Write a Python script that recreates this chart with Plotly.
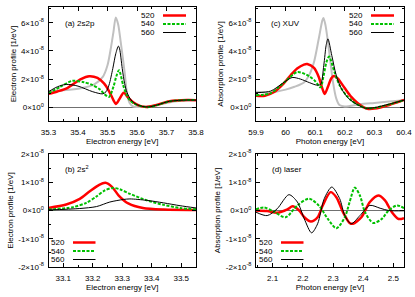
import plotly.graph_objects as go

W, H = 415, 297
S = 1e-8  # values below are in units of 1e-8 1/eV

# ---- panel (a) 2s2p : electron energy [eV]
A_RED_X = [35.30, 35.33, 35.365, 35.41, 35.438, 35.466, 35.488, 35.505, 35.52, 35.528, 35.54, 35.555, 35.57, 35.587, 35.61, 35.632, 35.666, 35.71, 35.77, 35.80]
A_RED_Y = [0.95, 1.12, 1.38, 2.00, 2.20, 2.08, 1.69, 1.15, 0.51, 0.23, 0.56, 1.03, 0.68, 0.35, 0.09, 0.02, 0.16, 0.42, 0.51, 0.50]
A_GRN_X = [35.30, 35.34, 35.38, 35.42, 35.45, 35.475, 35.49, 35.505, 35.52, 35.53, 35.539, 35.553, 35.564, 35.575, 35.592, 35.62, 35.635, 35.67, 35.71, 35.77, 35.80]
A_GRN_Y = [1.0, 1.45, 1.87, 1.78, 1.57, 1.25, 0.92, 0.73, 1.45, 2.2, 2.63, 1.57, 0.92, 0.51, 0.23, 0.05, 0.0, 0.16, 0.42, 0.51, 0.50]
A_BLK_X = [35.30, 35.33, 35.36, 35.40, 35.45, 35.484, 35.495, 35.505, 35.518, 35.528, 35.537, 35.541, 35.55, 35.558, 35.566, 35.58, 35.598, 35.62, 35.64, 35.67, 35.71, 35.77, 35.80]
A_BLK_Y = [1.1, 1.45, 1.62, 1.5, 1.1, 0.95, 1.1, 1.57, 2.75, 3.8, 4.34, 4.15, 2.75, 1.69, 1.06, 0.51, 0.2, 0.05, 0.02, 0.17, 0.42, 0.51, 0.50]
A_GRY_X = [35.30, 35.35, 35.41, 35.455, 35.484, 35.50, 35.511, 35.52, 35.528, 35.536, 35.545, 35.558, 35.566, 35.575, 35.587, 35.60, 35.65, 35.70, 35.75, 35.80]
A_GRY_Y = [1.15, 1.2, 1.34, 1.62, 2.15, 2.98, 4.15, 5.32, 6.38, 5.9, 4.6, 2.5, 0.99, 0.3, 0.05, 0.02, 0.08, 0.3, 0.45, 0.52]

# ---- panel (c) XUV : photon energy [eV]
C_RED_X = [59.90, 59.93, 59.96, 59.994, 60.017, 60.039, 60.062, 60.073, 60.096, 60.112, 60.124, 60.132, 60.143, 60.154, 60.163, 60.176, 60.199, 60.221, 60.244, 60.266, 60.28, 60.30, 60.35, 60.40]
C_RED_Y = [0.82, 0.82, 1.06, 1.69, 2.27, 2.75, 3.03, 3.07, 2.79, 2.15, 1.34, 0.94, 1.45, 2.04, 2.22, 2.04, 1.38, 0.75, 0.28, -0.03, -0.12, -0.1, 0.16, 0.51]
C_GRN_X = [59.90, 59.95, 60.0, 60.04, 60.08, 60.10, 60.118, 60.128, 60.138, 60.147, 60.165, 60.182, 60.204, 60.227, 60.25, 60.27, 60.30, 60.35, 60.40]
C_GRN_Y = [0.85, 1.0, 1.85, 2.5, 2.2, 1.85, 1.41, 2.2, 3.2, 3.6, 2.5, 1.57, 0.87, 0.4, 0.12, -0.07, -0.05, 0.2, 0.5]
C_BLK_X = [59.90, 59.95, 59.99, 60.022, 60.05, 60.08, 60.105, 60.118, 60.129, 60.137, 60.143, 60.156, 60.171, 60.188, 60.21, 60.233, 60.255, 60.27, 60.30, 60.35, 60.40]
C_BLK_Y = [1.03, 1.15, 1.7, 2.11, 2.0, 1.75, 1.57, 1.62, 2.98, 4.4, 4.86, 3.68, 2.27, 1.34, 0.68, 0.3, 0.05, -0.07, -0.03, 0.22, 0.5]
C_GRY_X = [59.90, 59.95, 60.0, 60.03, 60.062, 60.08, 60.096, 60.112, 60.124, 60.128, 60.135, 60.146, 60.16, 60.171, 60.182, 60.20, 60.25, 60.30, 60.35, 60.40]
C_GRY_Y = [1.1, 1.05, 1.25, 1.45, 1.76, 2.3, 3.21, 4.86, 6.15, 6.34, 5.8, 4.15, 1.8, 0.63, 0.15, 0.05, 0.2, 0.3, 0.4, 0.5]

# ---- panel (b) 2s^2 : electron energy [eV]
B_RED_X = [33.05, 33.11, 33.156, 33.19, 33.222, 33.243, 33.266, 33.288, 33.322, 33.37, 33.44, 33.55]
B_RED_Y = [0.09, 0.21, 0.41, 0.68, 0.91, 0.98, 0.83, 0.53, 0.24, 0.09, 0.035, 0.02]
B_GRN_X = [33.05, 33.133, 33.178, 33.213, 33.241, 33.268, 33.292, 33.326, 33.383, 33.44, 33.496, 33.55]
B_GRN_Y = [0.035, 0.12, 0.27, 0.5, 0.71, 0.8, 0.75, 0.59, 0.36, 0.2, 0.09, 0.04]
B_BLK_X = [33.05, 33.156, 33.213, 33.258, 33.304, 33.326, 33.383, 33.44, 33.496, 33.55]
B_BLK_Y = [0.02, 0.07, 0.14, 0.3, 0.39, 0.41, 0.36, 0.27, 0.17, 0.09]

# ---- panel (d) laser : photon energy [eV]
D_RED_X = [2.045, 2.082, 2.115, 2.149, 2.166, 2.188, 2.205, 2.227, 2.249, 2.266, 2.292, 2.311, 2.333, 2.355, 2.366, 2.394, 2.422, 2.45, 2.472, 2.495, 2.517, 2.535]
D_RED_Y = [0.0, -0.02, -0.08, 0.04, 0.15, 0.0, -0.24, -0.39, -0.24, 0.18, 0.65, 0.47, -0.06, -0.44, -0.47, -0.24, 0.3, 0.53, 0.36, -0.06, -0.3, -0.27]
D_GRN_X = [2.045, 2.071, 2.104, 2.143, 2.182, 2.221, 2.255, 2.283, 2.311, 2.339, 2.355, 2.372, 2.389, 2.406, 2.433, 2.461, 2.484, 2.512, 2.535]
D_GRN_Y = [0.04, 0.11, -0.04, -0.24, 0.18, 0.42, 0.15, -0.3, -0.63, -0.24, 0.3, 0.81, 0.53, -0.06, -0.44, -0.3, 0.0, 0.18, 0.08]
D_BLK_X = [2.045, 2.082, 2.115, 2.154, 2.182, 2.205, 2.229, 2.249, 2.271, 2.296, 2.322, 2.339, 2.36, 2.389, 2.422, 2.456, 2.484, 2.535]
D_BLK_Y = [-0.06, -0.18, 0.06, 0.56, 0.3, -0.3, -0.79, -0.47, 0.42, 0.83, 0.42, -0.18, -0.47, -0.18, 0.18, 0.08, 0.0, -0.01]

LEGEND_NAMES = ["520", "540", "560"]
TOP_YTICKS = [0, 2, 4, 6]
TOP_YTEXT = ["0×10<sup>0</sup>", "2×10<sup>-8</sup>", "4×10<sup>-8</sup>", "6×10<sup>-8</sup>"]
BOT_YTICKS = [-2, -1, 0, 1, 2]
BOT_YTEXT = ["-2×10<sup>-8</sup>", "-1×10<sup>-8</sup>", "0×10<sup>0</sup>", "1×10<sup>-8</sup>", "2×10<sup>-8</sup>"]

RED = dict(color="#ff0000", width=2.5)
GRN = dict(color="#00c000", width=2, dash="3px,1.5px")
BLK = dict(color="#000000", width=1)
GRY = dict(color="#c0c0c0", width=2)
FONT = "Liberation Sans, Arial, sans-serif"

fig = go.Figure()

def add(xs, ys, line, ax):
    fig.add_trace(go.Scatter(x=xs, y=[v * S for v in ys], mode="lines",
                             line=dict(shape="spline", smoothing=0.8, **line),
                             xaxis="x" + ax, yaxis="y" + ax, showlegend=False,
                             hoverinfo="skip"))

add(A_GRY_X, A_GRY_Y, GRY, "")
add(A_RED_X, A_RED_Y, RED, "")
add(A_GRN_X, A_GRN_Y, GRN, "")
add(A_BLK_X, A_BLK_Y, BLK, "")
add(C_GRY_X, C_GRY_Y, GRY, "2")
add(C_RED_X, C_RED_Y, RED, "2")
add(C_GRN_X, C_GRN_Y, GRN, "2")
add(C_BLK_X, C_BLK_Y, BLK, "2")
add(B_RED_X, B_RED_Y, RED, "3")
add(B_GRN_X, B_GRN_Y, GRN, "3")
add(B_BLK_X, B_BLK_Y, BLK, "3")
add(D_RED_X, D_RED_Y, RED, "4")
add(D_GRN_X, D_GRN_Y, GRN, "4")
add(D_BLK_X, D_BLK_Y, BLK, "4")

def px(x):
    return x / W

def py(y):
    return 1 - y / H

def xax(dom, rng, dtick, title):
    return dict(domain=dom, range=rng, dtick=dtick, tick0=0, ticks="inside", ticklen=4,
                tickwidth=1, tickcolor="black", showline=True, linecolor="black", linewidth=1,
                mirror="ticks", showgrid=False, zeroline=False, automargin=False,
                minor=dict(dtick=dtick / 2, ticks="inside", ticklen=2, tickcolor="black", showgrid=False),
                tickfont=dict(size=8, family=FONT, color="black"), ticklabelstandoff=3,
                title=dict(text=title, font=dict(size=8, family=FONT, color="black"), standoff=2))

def yax(dom, rng, vals, text, minor, title):
    return dict(domain=dom, range=[rng[0] * S, rng[1] * S], tickmode="array",
                tickvals=[v * S for v in vals], ticktext=text, ticks="inside", ticklen=4,
                tickwidth=1, tickcolor="black", showline=True, linecolor="black", linewidth=1,
                mirror="ticks", showgrid=False, zeroline=True, zerolinecolor="#707070", zerolinewidth=1,
                automargin=False,
                minor=dict(tickmode="linear", tick0=0, dtick=minor * S, ticks="inside", ticklen=2,
                           tickcolor="black", showgrid=False),
                tickfont=dict(size=8, family=FONT, color="black"), ticklabelstandoff=2,
                title=dict(text=title, font=dict(size=8, family=FONT, color="black"), standoff=3))

TOP = [py(121), py(7)]
BOT = [py(267), py(154)]
LEFT = [px(48.5), px(196)]
RIGHT = [px(256), px(404)]

fig.update_layout(
    template="none",
    width=W, height=H, margin=dict(l=0, r=0, t=0, b=0),
    paper_bgcolor="white", plot_bgcolor="white",
    font=dict(family=FONT, size=8, color="black"),
    xaxis=xax(LEFT, [35.3, 35.8], 0.1, "Electron energy [eV]"),
    yaxis=yax(TOP, [-0.98, 7.12], TOP_YTICKS, TOP_YTEXT, 1, "Electron profile [1/eV]"),
    xaxis2=xax(RIGHT, [59.9, 60.4], 0.1, "Photon energy [eV]"),
    yaxis2=yax(TOP, [-0.98, 7.12], TOP_YTICKS, TOP_YTEXT, 1, "Absorption profile [1/eV]"),
    xaxis3=xax(LEFT, [33.05, 33.55], 0.1, "Electron energy [eV]"),
    yaxis3=yax(BOT, [-2, 2], BOT_YTICKS, BOT_YTEXT, 0.5, "Electron profile [1/eV]"),
    xaxis4=xax(RIGHT, [2.045, 2.535], 0.1, "Photon energy [eV]"),
    yaxis4=yax(BOT, [-2, 2], BOT_YTICKS, BOT_YTEXT, 0.5, "Absorption profile [1/eV]"),
)
for i, ax in enumerate(["", "2", "3", "4"]):
    fig.layout["yaxis" + ax].anchor = "x" + ax
    fig.layout["xaxis" + ax].anchor = "y" + ax

annotations = []
shapes = []

def label(text, x, y):
    annotations.append(dict(text=text, x=px(x), y=py(y), xref="paper", yref="paper",
                            xanchor="left", yanchor="middle", showarrow=False,
                            font=dict(size=8, family=FONT, color="black")))

label("(a) 2s2p", 62.5, 23.5)
label("(c) XUV", 269, 23.5)
label("(b) 2s<sup>2</sup>", 62.5, 169)
label("(d) laser", 269.5, 169)

STYLES = [RED, GRN, BLK]

def legend(text_right, line_x0, line_x1, rows):
    for name, style, yy in zip(LEGEND_NAMES, STYLES, rows):
        annotations.append(dict(text=name, x=px(text_right), y=py(yy), xref="paper", yref="paper",
                                xanchor="right", yanchor="middle", showarrow=False,
                                font=dict(size=8, family=FONT, color="black")))
        ln = dict(color=style["color"], width=style["width"])
        if "dash" in style:
            ln["dash"] = style["dash"]
        shapes.append(dict(type="line", xref="paper", yref="paper", x0=px(line_x0), x1=px(line_x1),
                           y0=py(yy), y1=py(yy), line=ln))

legend(156.5, 163, 186, [15.5, 24, 32.5])
legend(364.5, 371, 394, [15.5, 24, 32.5])
legend(67, 73, 95.5, [242.5, 251, 259.5])
legend(275, 281, 303.5, [242.5, 251, 259.5])

fig.update_layout(annotations=annotations, shapes=shapes)
fig.write_html("out.html", config={"displayModeBar": False, "staticPlot": True},
               post_script="document.body.style.margin='0';document.body.style.padding='0';"
                           "document.documentElement.style.overflow='hidden';")
